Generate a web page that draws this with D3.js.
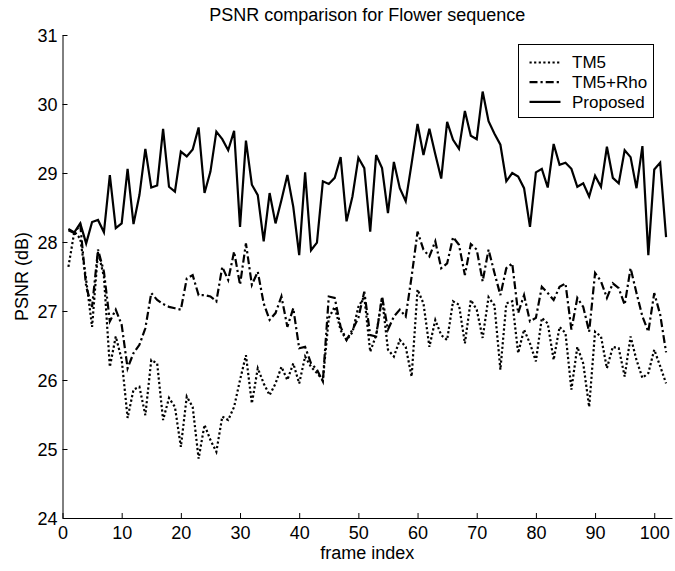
<!DOCTYPE html>
<html>
<head>
<meta charset="utf-8">
<script src="https://cdn.jsdelivr.net/npm/d3@7"></script>
<style>
  body { margin: 0; background: #fff; }
  text { font-family: 'Liberation Sans', Arial, sans-serif; fill: #000; }
  .axis path, .axis line { stroke: #000; stroke-width: 1; }
  .axis text { font-size: 18px; }
  .axis-title { font-size: 18px; }
  .legend-text { font-size: 17px; }
</style>
</head>
<body>
<svg id="chart"></svg>
<script>
// svg size and plot margins (plot region measured on zoomed crops of the reference)
const width = 675;
const height = 571;

const margin = {
  top: 35,
  bottom: 53,
  left: 62.5,
  right: 3
};

// x ticks and y ticks
const xTicks = [0, 10, 20, 30, 40, 50, 60, 70, 80, 90, 100];
const yTicks = [24, 25, 26, 27, 28, 29, 30, 31];

// frame indices 1..102
const frames = d3.range(1, 103);

// series values (dB), one per frame
const tm5 = [
  27.64, 28.15, 28.05, 27.45, 26.77, 27.86, 27.50, 26.19, 26.63, 26.30,
  25.45, 25.86, 25.90, 25.49, 26.29, 26.24, 25.42, 25.74, 25.61, 25.03,
  25.76, 25.61, 24.86, 25.35, 25.13, 24.96, 25.47, 25.42, 25.61, 26.00,
  26.36, 25.66, 26.17, 25.95, 25.78, 25.95, 26.19, 26.00, 26.24, 25.95,
  26.34, 26.19, 26.10, 26.00, 26.90, 27.06, 26.72, 26.58, 26.69, 27.06,
  27.21, 26.41, 26.65, 27.19, 26.44, 26.34, 26.58, 26.48, 26.05, 27.31,
  27.11, 26.48, 26.87, 26.65, 26.58, 27.14, 27.09, 26.53, 27.16, 27.02,
  26.61, 27.20, 27.08, 26.15, 27.11, 27.14, 26.39, 26.73, 26.53, 26.27,
  26.90, 26.82, 26.29, 26.77, 26.68, 25.86, 26.48, 26.24, 25.61, 26.70,
  26.63, 26.17, 26.48, 26.46, 26.05, 26.63, 26.29, 26.03, 26.10, 26.44,
  26.20, 25.95
];

const tm5Rho = [
  28.17, 28.13, 28.25, 27.35, 27.06, 27.89, 27.57, 26.85, 27.02, 26.80,
  26.17, 26.39, 26.51, 26.75, 27.26, 27.16, 27.10, 27.06, 27.04, 27.02,
  27.47, 27.52, 27.23, 27.23, 27.21, 27.14, 27.64, 27.45, 27.86, 27.38,
  27.98, 27.38, 27.57, 27.11, 26.87, 26.97, 27.21, 26.77, 27.04, 26.46,
  26.48, 26.24, 26.15, 25.98, 27.21, 27.19, 26.77, 26.58, 26.73, 26.90,
  27.28, 26.65, 26.63, 27.21, 26.73, 26.92, 27.02, 26.92, 27.50, 28.15,
  27.89, 27.79, 28.01, 27.62, 27.69, 28.07, 27.96, 27.52, 27.97, 27.89,
  27.43, 27.89, 27.55, 27.23, 27.62, 27.69, 26.97, 27.23, 26.85, 26.90,
  27.35, 27.26, 27.16, 27.35, 27.40, 26.73, 27.19, 27.06, 26.70, 27.55,
  27.43, 27.19, 27.40, 27.33, 27.09, 27.62, 27.26, 26.92, 26.70, 27.26,
  26.95, 26.40
];

const proposed = [
  28.19, 28.14, 28.27, 27.98, 28.29, 28.32, 28.14, 28.97, 28.20, 28.27,
  29.06, 28.26, 28.68, 29.35, 28.79, 28.82, 29.64, 28.80, 28.73, 29.31,
  29.24, 29.34, 29.66, 28.71, 29.02, 29.60, 29.49, 29.33, 29.61, 28.22,
  29.47, 28.83, 28.68, 28.01, 28.71, 28.27, 28.61, 28.97, 28.51, 27.81,
  29.01, 27.88, 27.99, 28.88, 28.84, 28.93, 29.23, 28.30, 28.66, 29.22,
  29.07, 28.15, 29.26, 29.07, 28.42, 29.16, 28.78, 28.59, 29.14, 29.71,
  29.26, 29.64, 29.27, 28.92, 29.74, 29.48, 29.35, 29.90, 29.54, 29.49,
  30.18, 29.75, 29.57, 29.41, 28.88, 29.00, 28.95, 28.78, 28.22, 29.01,
  29.06, 28.79, 29.42, 29.12, 29.15, 29.06, 28.80, 28.85, 28.66, 28.96,
  28.80, 29.38, 28.93, 28.85, 29.33, 29.23, 28.78, 29.39, 27.81, 29.05,
  29.15, 28.07
];

const seriesNames = ['TM5', 'TM5+Rho', 'Proposed'];

// line styles per series
const dashes = {
  'TM5': '2.2,2.4',
  'TM5+Rho': '8,3,2.2,3',
  'Proposed': null
};

const svg = d3.select('#chart')
  .attr('width', width)
  .attr('height', height);

const scales = {
  x: d3.scaleLinear().domain([0, 103]).range([margin.left, width - margin.right]),
  y: d3.scaleLinear().domain([24, 31]).range([height - margin.bottom, margin.top])
};

drawAxis();
drawTitles();
drawLines();
drawLegend();

/*
 * create axis lines, ticks point inward like matlab
 */
function drawAxis() {
  const xAxis = d3.axisBottom(scales.x)
    .tickValues(xTicks)
    .tickSizeInner(-5)
    .tickSizeOuter(0)
    .tickPadding(8);

  const yAxis = d3.axisLeft(scales.y)
    .tickValues(yTicks)
    .tickFormat(d3.format('d'))
    .tickSizeInner(-5)
    .tickSizeOuter(0)
    .tickPadding(5);

  const xGroup = svg.append('g')
    .attr('class', 'axis')
    .attr('transform', translate(0, height - margin.bottom))
    .call(xAxis);

  const yGroup = svg.append('g')
    .attr('class', 'axis')
    .attr('transform', translate(margin.left, 0))
    .call(yAxis);

  xGroup.selectAll('text').attr('font-family', null);
  yGroup.selectAll('text').attr('font-family', null).attr('dy', '0.35em');
}

/*
 * draw title and axis titles, both centred over the axes
 */
function drawTitles() {
  const xMiddle = midpoint(scales.x.range());
  const yMiddle = midpoint(scales.y.range());

  svg.append('text')
    .attr('class', 'axis-title')
    .attr('x', xMiddle)
    .attr('y', 21)
    .attr('text-anchor', 'middle')
    .text('PSNR comparison for Flower sequence');

  svg.append('text')
    .attr('class', 'axis-title')
    .attr('x', xMiddle)
    .attr('y', 559)
    .attr('text-anchor', 'middle')
    .text('frame index');

  const yGroup = svg.append('g')
    .attr('transform', translate(28, yMiddle));

  yGroup.append('text')
    .attr('class', 'axis-title')
    .attr('text-anchor', 'middle')
    .attr('transform', 'rotate(-90)')
    .text('PSNR (dB)');
}

/*
 * draw the three series
 */
function drawLines() {
  const line = d3.line()
    .x(d => scales.x(d[0]))
    .y(d => scales.y(d[1]));

  const data = {
    'TM5': frames.map((f, i) => [f, tm5[i]]),
    'TM5+Rho': frames.map((f, i) => [f, tm5Rho[i]]),
    'Proposed': frames.map((f, i) => [f, proposed[i]])
  };

  const group = svg.append('g').attr('id', 'lines');

  seriesNames.forEach(name => {
    group.append('path')
      .datum(data[name])
      .attr('fill', 'none')
      .attr('stroke', '#000')
      .attr('stroke-width', 2.2)
      .attr('stroke-dasharray', dashes[name])
      .attr('stroke-linejoin', 'miter')
      .attr('d', line);
  });
}

/*
 * legend box in the upper right corner
 */
function drawLegend() {
  const group = svg.append('g')
    .attr('id', 'legend')
    .attr('transform', translate(518.5, 44.5));

  group.append('rect')
    .attr('width', 135)
    .attr('height', 73)
    .attr('fill', '#fff')
    .attr('stroke', '#000')
    .attr('stroke-width', 1);

  seriesNames.forEach((name, i) => {
    const y = 18 + i * 19.7;

    group.append('line')
      .attr('x1', 11)
      .attr('x2', 42)
      .attr('y1', y)
      .attr('y2', y)
      .attr('stroke', '#000')
      .attr('stroke-width', 2.2)
      .attr('stroke-dasharray', dashes[name]);

    group.append('text')
      .attr('class', 'legend-text')
      .attr('x', 53.5)
      .attr('y', y)
      .attr('dy', '0.35em')
      .text(name);
  });
}

function midpoint(range) {
  return range[0] + (range[1] - range[0]) / 2.0;
}

function translate(x, y) {
  return 'translate(' + String(x) + ',' + String(y) + ')';
}
</script>
</body>
</html>
